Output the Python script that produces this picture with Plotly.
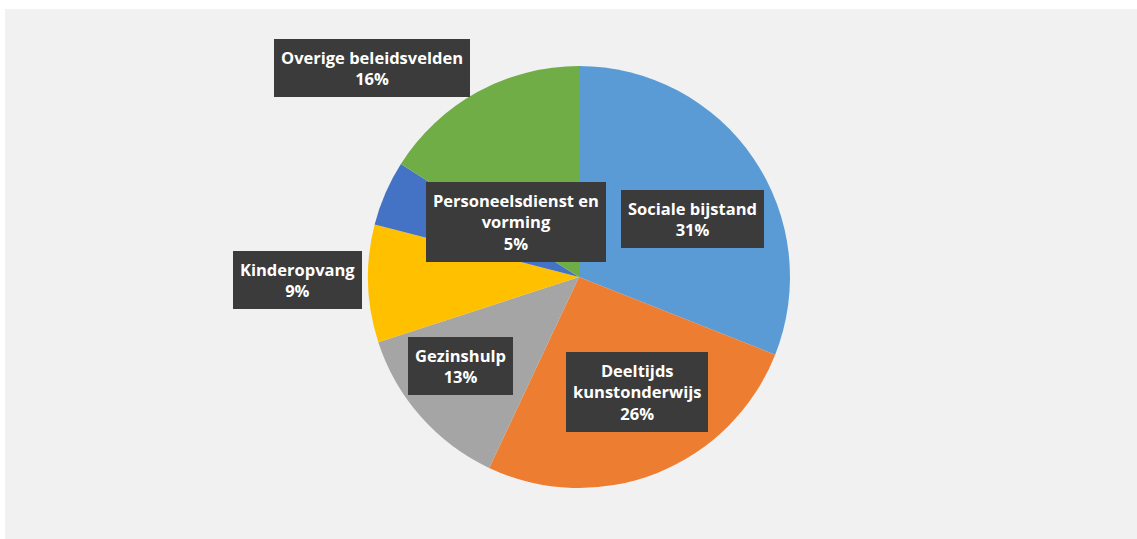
import plotly.graph_objects as go

categories = ["Sociale bijstand", "Deeltijds kunstonderwijs", "Gezinshulp",
              "Kinderopvang", "Personeelsdienst en vorming", "Overige beleidsvelden"]
values = [31, 26, 13, 9, 5, 16]
colors = ["#5B9BD5", "#ED7D31", "#A5A5A5", "#FFC000", "#4472C4", "#70AD47"]
label_texts = ["Sociale bijstand<br>31%", "Deeltijds<br>kunstonderwijs<br>26%",
               "Gezinshulp<br>13%", "Kinderopvang<br>9%",
               "Personeelsdienst en<br>vorming<br>5%", "Overige beleidsvelden<br>16%"]
# label box centres in pixels (layout only)
label_pos = [(692, 219), (637, 392), (460, 366), (297, 280), (516, 222), (372, 68)]

W, H = 1137, 539
cx, cy, r = 579, 277, 211

fig = go.Figure(go.Pie(
    labels=categories, values=values, sort=False, direction="clockwise",
    rotation=0, marker=dict(colors=colors, line=dict(width=0)),
    textinfo="none", hoverinfo="label+percent", showlegend=False,
    domain=dict(x=[(cx - r) / W, (cx + r) / W], y=[1 - (cy + r) / H, 1 - (cy - r) / H]),
))

annotations = []
for txt, (px, py) in zip(label_texts, label_pos):
    annotations.append(dict(
        x=px / W, y=1 - py / H, xref="paper", yref="paper", text="<b>" + txt + "</b>",
        xanchor="center", yanchor="middle",
        showarrow=False, font=dict(family="Open Sans, Lato, sans-serif", size=16.5, color="white"),
        bgcolor="#3b3b3b", bordercolor="#3b3b3b", borderpad=6, align="center",
    ))

fig.update_layout(
    width=W, height=H, margin=dict(l=0, r=0, t=0, b=0),
    paper_bgcolor="white",
    shapes=[dict(type="rect", xref="paper", yref="paper", x0=5 / W, x1=1, y0=0, y1=1 - 9 / H,
                 fillcolor="#F1F1F1", line=dict(width=0), layer="below")],
    annotations=annotations,
)

fig.write_html("out.html", config={"displayModeBar": False},
               post_script="document.body.style.margin='0';document.body.style.overflow='hidden';")
